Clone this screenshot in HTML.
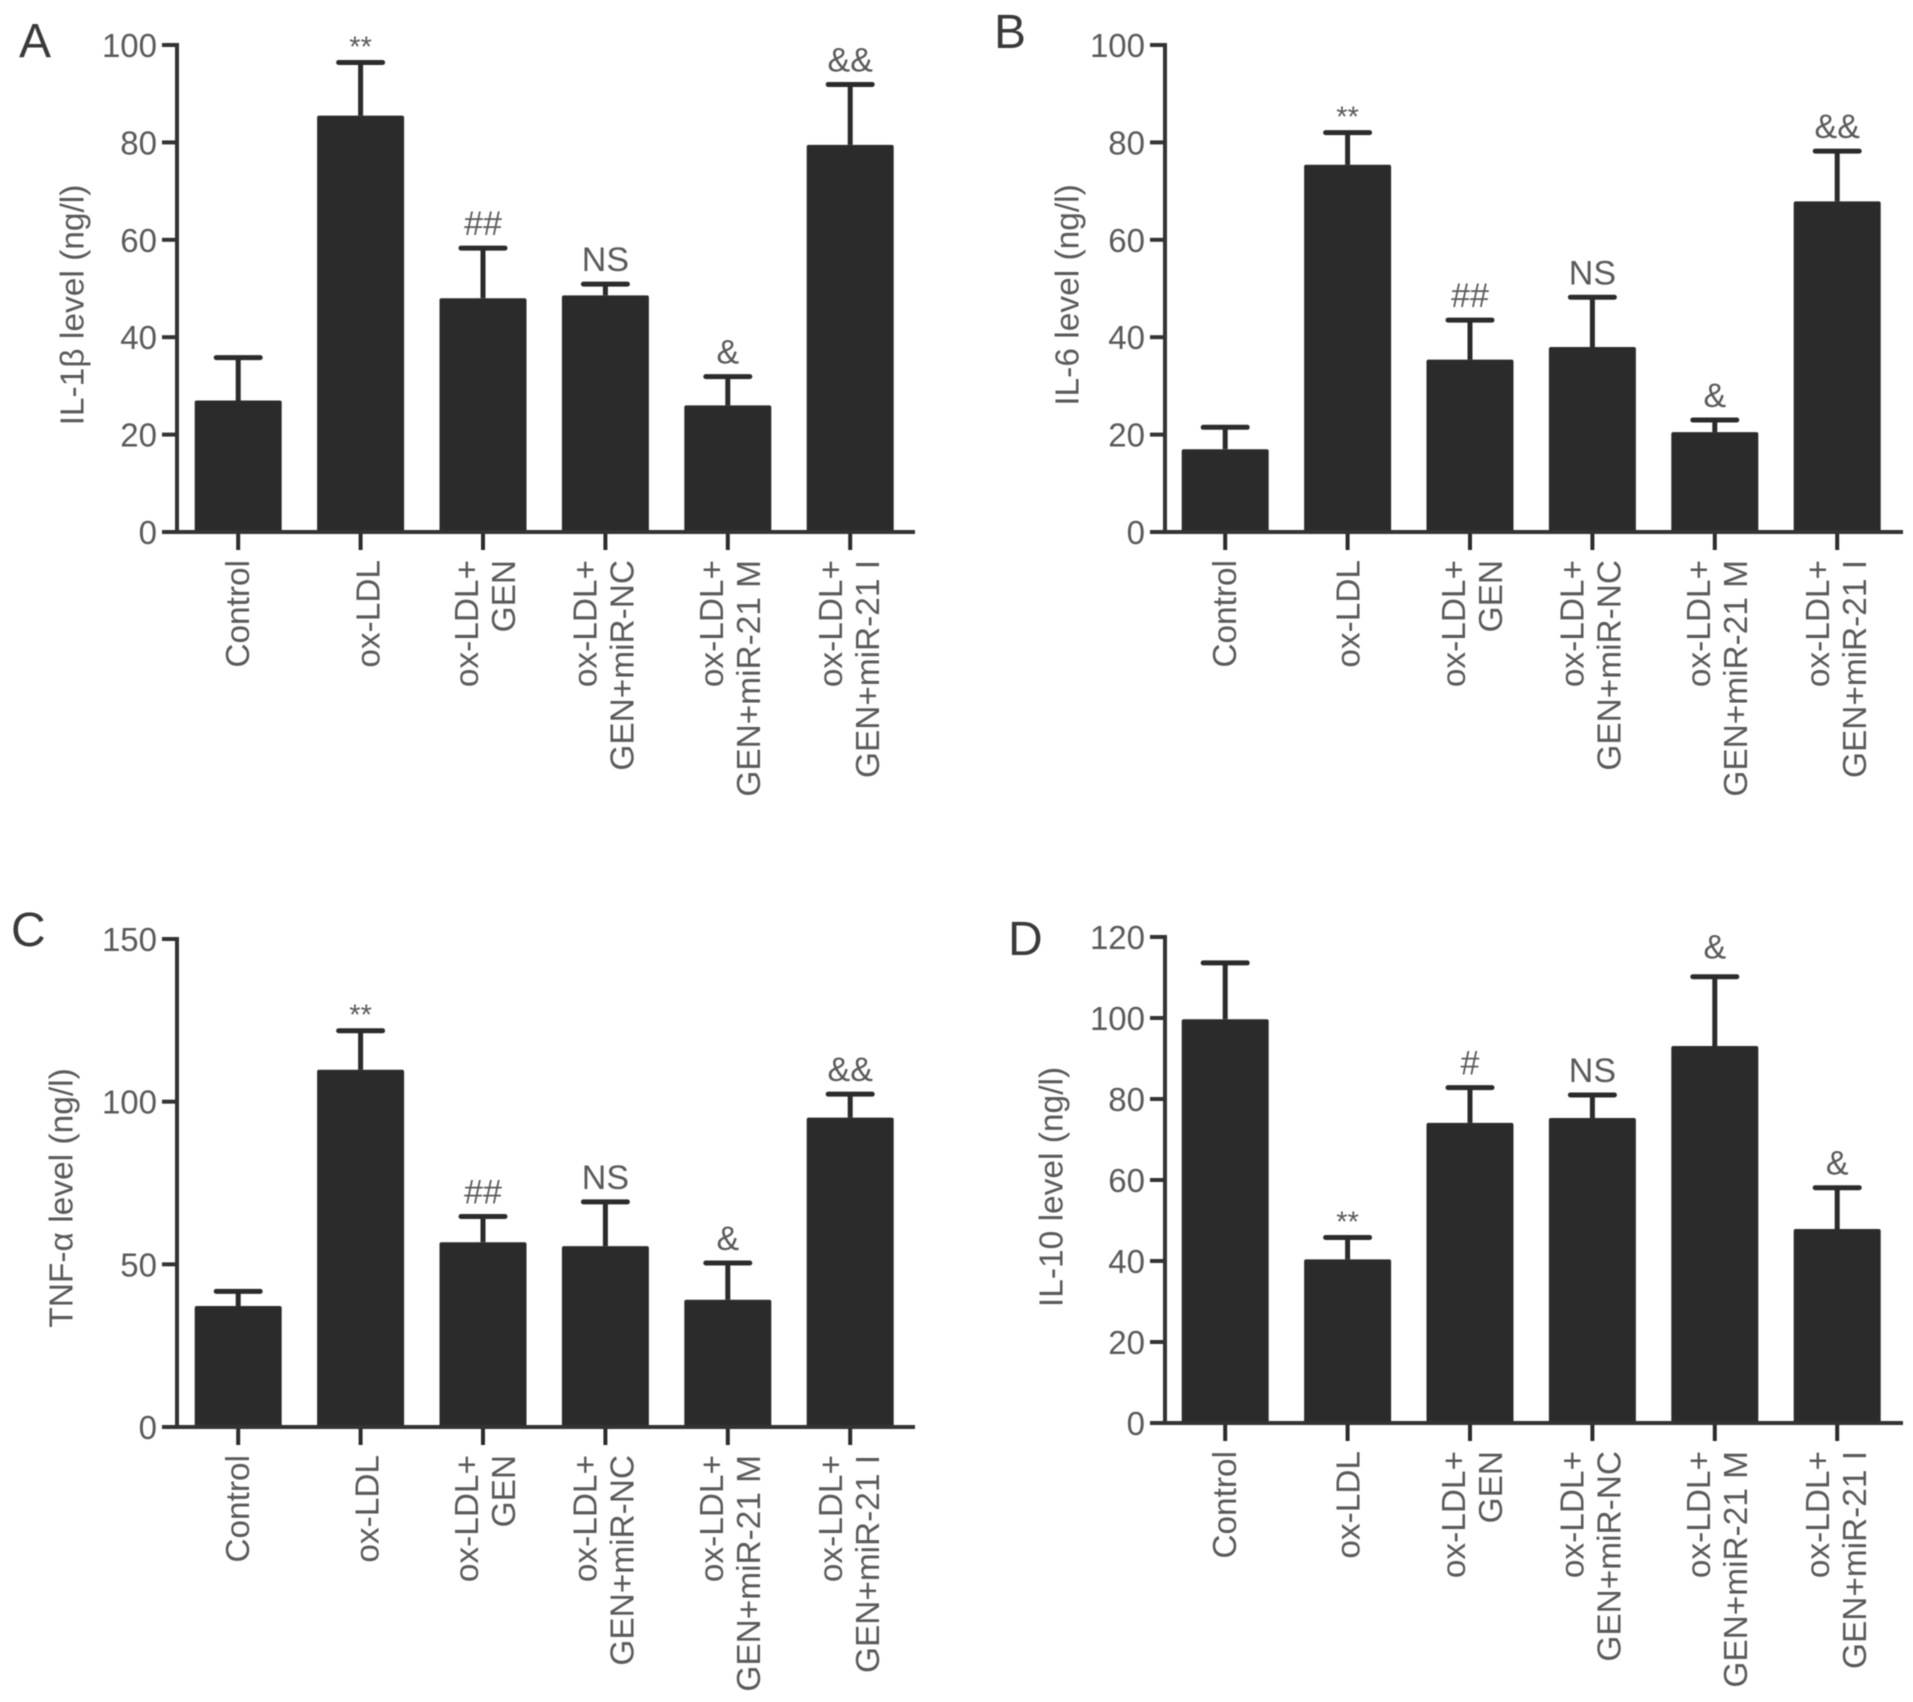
<!DOCTYPE html>
<html lang="en">
<head>
<meta charset="utf-8">
<title>Cytokine levels by treatment group</title>
<style>
html,body{margin:0;padding:0;background:#fff;width:1913px;height:1702px;overflow:hidden}
svg{display:block;font-family:"Liberation Sans",sans-serif;filter:blur(0.6px)}
</style>
</head>
<body>
<svg id="figure" xmlns="http://www.w3.org/2000/svg" width="1913" height="1702" viewBox="0 0 1913 1702"></svg>
<script>
const categoryLines = [["Control"], ["ox-LDL"], ["ox-LDL+", "GEN"], ["ox-LDL+", "GEN+miR-NC"], ["ox-LDL+", "GEN+miR-21 M"], ["ox-LDL+", "GEN+miR-21 I"]];

const il1bMeans = [27, 85.5, 48, 48.6, 26, 79.5];
const il1bUpper = [35.8, 96.4, 58.3, 50.9, 31.9, 91.9];
const il1bMarks = ["", "**", "##", "NS", "&", "&&"];
const il1bTicks = [0, 20, 40, 60, 80, 100];

const il6Means = [17, 75.4, 35.4, 38, 20.5, 67.9];
const il6Upper = [21.5, 82, 43.5, 48.2, 23, 78.2];
const il6Marks = ["", "**", "##", "NS", "&", "&&"];
const il6Ticks = [0, 20, 40, 60, 80, 100];

const tnfMeans = [37.2, 109.8, 56.8, 55.6, 39.1, 95.1];
const tnfUpper = [41.7, 121.8, 64.7, 69.2, 50.4, 102.3];
const tnfMarks = ["", "**", "##", "NS", "&", "&&"];
const tnfTicks = [0, 50, 100, 150];

const il10Means = [99.7, 40.4, 74.1, 75.3, 93.1, 47.9];
const il10Upper = [113.6, 45.8, 82.8, 81, 110.2, 58.1];
const il10Marks = ["", "**", "#", "NS", "&", "&"];
const il10Ticks = [0, 20, 40, 60, 80, 100, 120];

const SVG_NS = "http://www.w3.org/2000/svg";
const figure = document.getElementById("figure");

function make(parent, tag, attrs, content) {
  const el = document.createElementNS(SVG_NS, tag);
  for (const key in attrs) el.setAttribute(key, attrs[key]);
  if (content !== undefined) el.textContent = content;
  parent.appendChild(el);
  return el;
}

function drawPanel(cfg) {
  const ink = "#2b2b2b";
  const textInk = "#5a5a5a";
  const maxTick = cfg.ticks[cfg.ticks.length - 1];
  const yScale = v => cfg.y0 - (v / maxTick) * (cfg.y0 - cfg.yTop);
  const xScale = i => cfg.axisX + cfg.firstBar + i * 122.4;
  const lineShift = [[1], [cfg.oxShift], [-15, 22], [-19, 18], [-15, 22], [-18, 19]];

  const g = make(figure, "g", {});
  
  

  const letter = make(g, "text", {x: cfg.letterX, y: cfg.letterY, "font-size": 48, fill: "#3a3a3a"}, cfg.letter);
  
  

  const titleEl = make(g, "text", {
    transform: "translate(" + (cfg.titleX + 8.5) + " " + cfg.titleY + ") rotate(-90)",
    "text-anchor": "middle", "font-size": 33.5, fill: textInk
  }, cfg.title);
  
  

  cfg.means.forEach((mean, i) => {
    const cx = xScale(i);
    const top = yScale(mean);
    const upper = yScale(cfg.upper[i]);

    const stem = make(g, "line", {x1: cx, x2: cx, y1: top, y2: upper, stroke: ink, "stroke-width": 5});
    
    

    const cap = make(g, "line", {x1: cx - 22, x2: cx + 22, y1: upper, y2: upper, stroke: ink, "stroke-width": 5, "stroke-linecap": "round"});
    
    

    const bar = make(g, "rect", {x: cx - 43.5, y: top, width: 87, height: cfg.y0 - top, rx: 2, fill: ink});
    
    

    const mark = cfg.marks[i];
    if (mark) {
      const stars = mark === "**";
      const lift = (stars ? 6 : 13) + (cfg.markLift && cfg.markLift[i] ? cfg.markLift[i] : 0);
      const markEl = make(g, "text", {
        x: cx, y: upper - lift, "text-anchor": "middle",
        "font-size": stars ? 29 : 34, fill: textInk
      }, mark);
      
      
    }

    const xTick = make(g, "line", {x1: cx, x2: cx, y1: cfg.y0, y2: cfg.y0 + 18, stroke: ink, "stroke-width": 4});
    
    

    categoryLines[i].forEach((line, k) => {
      const baseX = cx + lineShift[i][k] + 10;
      const baseY = cfg.y0 + 28;
      const label = make(g, "text", {
        transform: "translate(" + baseX + " " + baseY + ") rotate(-90)",
        "text-anchor": "end", "font-size": 33.4, fill: textInk
      }, line);
      
      
    });
  });

  const yAxis = make(g, "line", {x1: cfg.axisX, x2: cfg.axisX, y1: cfg.yTop - 2, y2: cfg.y0 + 2, stroke: "#333", "stroke-width": 4});
  
  

  const xAxis = make(g, "line", {x1: cfg.axisX - 15, x2: cfg.axisX + 738, y1: cfg.y0, y2: cfg.y0, stroke: "#333", "stroke-width": 4});
  
  

  cfg.ticks.forEach(t => {
    const y = yScale(t);
    const tick = make(g, "line", {x1: cfg.axisX - 15, x2: cfg.axisX, y1: y, y2: y, stroke: "#333", "stroke-width": 4});
    
    

    const tickLabel = make(g, "text", {x: cfg.axisX - 20, y: y + 12, "text-anchor": "end", "font-size": 33, fill: textInk}, String(t));
    
    
  });
}

drawPanel({key: "il1b", letter: "A", letterX: 19, letterY: 57, title: "IL-1β level (ng/l)", titleX: 75, titleY: 305, oxShift: 9,
  axisX: 177, firstBar: 61.2, y0: 532, yTop: 45, ticks: il1bTicks, means: il1bMeans, upper: il1bUpper, marks: il1bMarks});
drawPanel({key: "il6", letter: "B", letterX: 994, letterY: 48, title: "IL-6 level (ng/l)", titleX: 1070, titleY: 295, oxShift: 2,
  axisX: 1165, firstBar: 60.2, y0: 532, yTop: 45, ticks: il6Ticks, means: il6Means, upper: il6Upper, marks: il6Marks});
drawPanel({key: "tnf", letter: "C", letterX: 11, letterY: 946, title: "TNF-α level (ng/l)", titleX: 64, titleY: 1198, oxShift: 8,
  axisX: 177, firstBar: 61.2, y0: 1427, yTop: 939, ticks: tnfTicks, means: tnfMeans, upper: tnfUpper, marks: tnfMarks});
drawPanel({key: "il10", letter: "D", letterX: 1008, letterY: 955, title: "IL-10 level (ng/l)", titleX: 1054, titleY: 1187, oxShift: 2,
  axisX: 1165, firstBar: 60.2, y0: 1423, yTop: 937, ticks: il10Ticks, means: il10Means, upper: il10Upper, marks: il10Marks, markLift: {4: 5}});
</script>
</body>
</html>
